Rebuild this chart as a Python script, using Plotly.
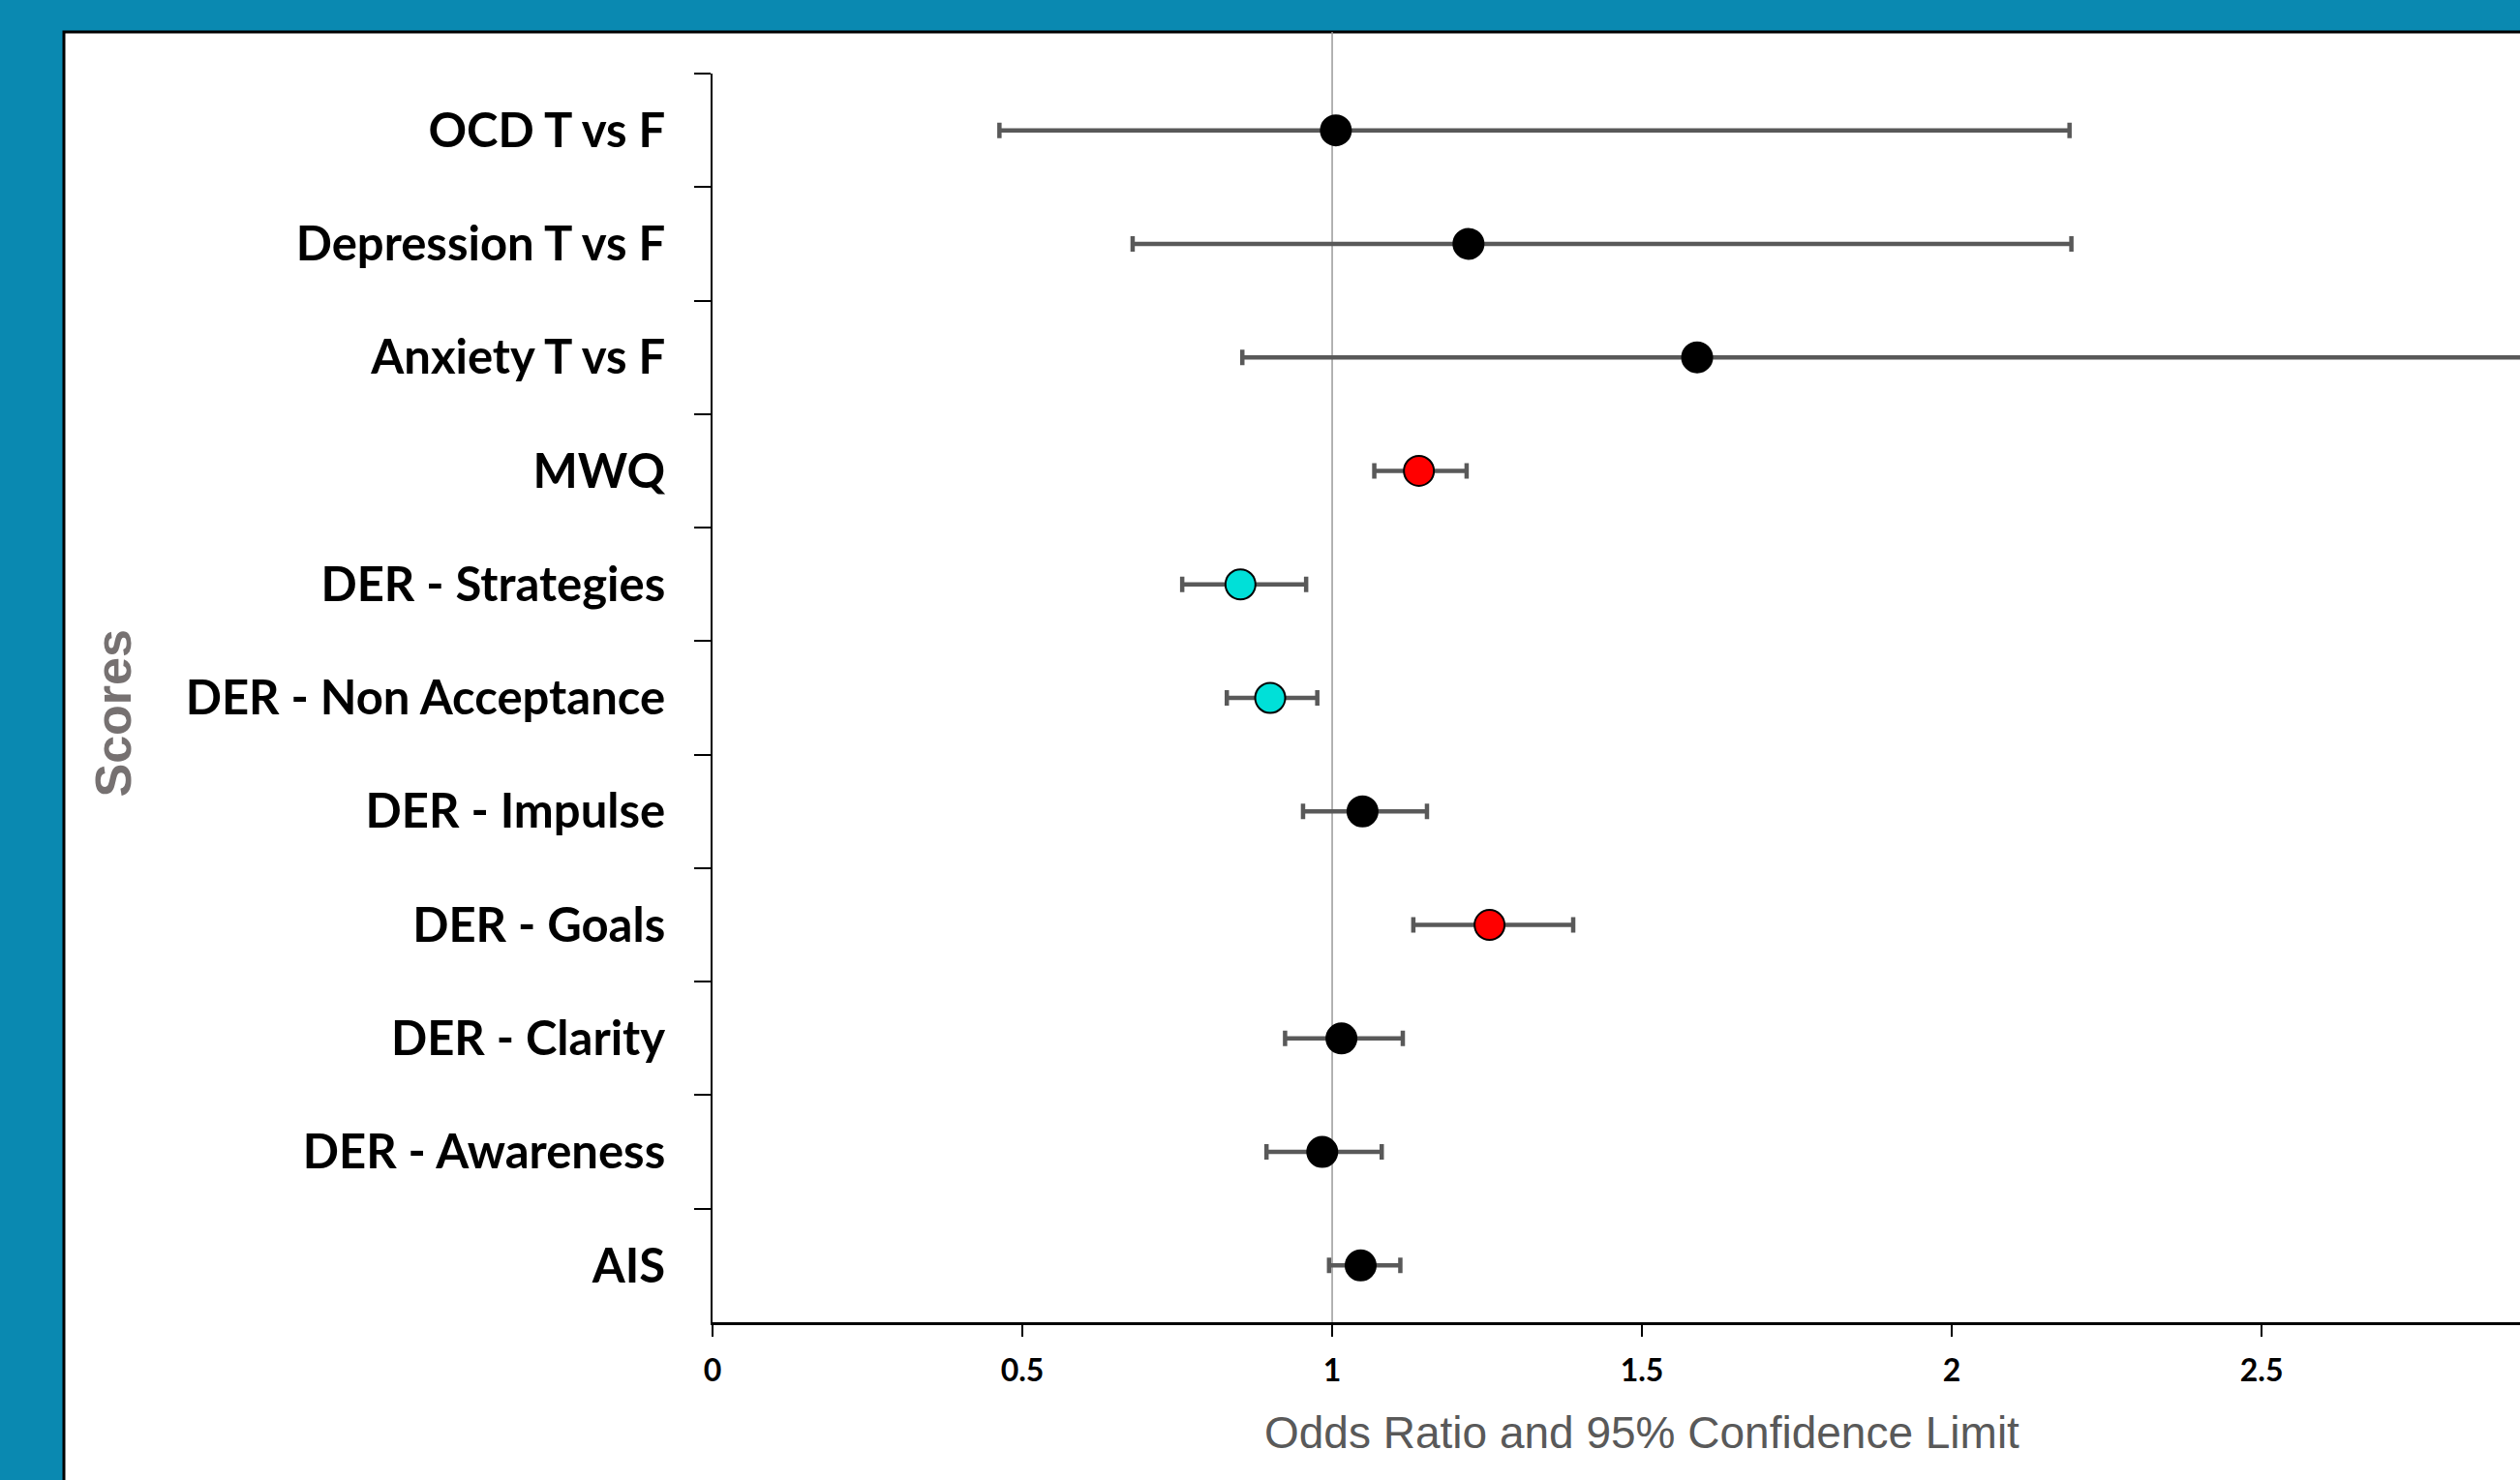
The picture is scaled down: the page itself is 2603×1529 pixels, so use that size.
import plotly.graph_objects as go

# ---- data (top to bottom as drawn) ----
categories = ["OCD T vs F", "Depression T vs F", "Anxiety T vs F", "MWQ",
              "DER - Strategies", "DER - Non Acceptance", "DER - Impulse",
              "DER - Goals", "DER - Clarity", "DER - Awareness", "AIS"]
odds_ratio = [1.006, 1.220, 1.589, 1.140, 0.852, 0.900, 1.049, 1.254, 1.015, 0.984, 1.046]
ci_low     = [0.463, 0.678, 0.855, 1.068, 0.758, 0.830, 0.953, 1.131, 0.924, 0.894, 0.995]
ci_high    = [2.190, 2.193, 2.960, 1.217, 0.958, 0.976, 1.153, 1.389, 1.114, 1.080, 1.110]
point_colors = ["#000000", "#000000", "#000000", "#FF0000", "#00E0D8", "#00E0D8",
                "#000000", "#FF0000", "#000000", "#000000", "#000000"]
x_tick_vals = [0, 0.5, 1, 1.5, 2, 2.5]
x_tick_text = ["0", "0.5", "1", "1.5", "2", "2.5"]

err_plus = [h - p for h, p in zip(ci_high, odds_ratio)]
err_minus = [p - l for p, l in zip(odds_ratio, ci_low)]

W, H = 2603, 1529
L, R, T, B = 736, 0, 76, 163
plot_w = W - L - R
plot_h = H - T - B

fig = go.Figure()
fig.add_trace(go.Scatter(
    x=odds_ratio, y=categories, mode="markers",
    marker=dict(size=31, color=point_colors, line=dict(color="#000000", width=2)),
    error_x=dict(type="data", symmetric=False, array=err_plus, arrayminus=err_minus,
                 color="#595959", thickness=4.5, width=8),
    showlegend=False, hoverinfo="skip",
))

panel_left = (66 - L) / plot_w
panel_top = (H - B - 33) / plot_h

fig.update_layout(
    width=W, height=H,
    margin=dict(l=L, r=R, t=T, b=B, autoexpand=False),
    paper_bgcolor="#0A89B1",
    plot_bgcolor="#FFFFFF",
    shapes=[
        dict(type="rect", xref="paper", yref="paper", x0=panel_left, x1=1.2,
             y0=-0.4, y1=panel_top, fillcolor="#FFFFFF",
             line=dict(color="#000000", width=3), layer="below"),
        dict(type="line", xref="x", yref="paper", x0=1, x1=1, y0=0, y1=panel_top,
             line=dict(color="#9A9A9A", width=1.5), layer="below"),
    ],
    xaxis=dict(
        range=[0, 2.917], tickmode="array", tickvals=x_tick_vals, ticktext=x_tick_text,
        ticks="outside", ticklen=12, tickwidth=2, tickcolor="#000000",
        showline=True, linecolor="#000000", linewidth=3,
        showgrid=False, zeroline=False, automargin=False,
        ticklabelstandoff=8,
        tickfont=dict(family="Lato", size=32, color="#000000", weight=700),
    ),
    yaxis=dict(
        type="category", categoryorder="array", categoryarray=categories,
        range=[len(categories) - 0.5, -0.5],
        tickson="boundaries", ticks="outside", ticklen=17, tickwidth=2,
        tickcolor="#000000", showline=True, linecolor="#000000", linewidth=2,
        showgrid=False, zeroline=False, automargin=False,
        ticklabelstandoff=37,
        tickfont=dict(family="Lato", size=49, color="#000000", weight=700),
    ),
    annotations=[
        dict(text="Odds Ratio and 95% Confidence Limit", xref="x", yref="paper",
             x=1.5, y=-(1480 - (H - B)) / plot_h, xanchor="center", yanchor="middle",
             showarrow=False,
             font=dict(family="Liberation Sans", size=46, color="#595959")),
        dict(text="<b>Scores</b>", xref="paper", yref="paper",
             x=(116.5 - L) / plot_w, y=(H - B - 737) / plot_h,
             xanchor="center", yanchor="middle", textangle=-90, showarrow=False,
             font=dict(family="Liberation Sans", size=52, color="#767171")),
    ],
)

fig.write_html(
    "out.html",
    config={"displayModeBar": False},
    post_script="document.body.style.margin='0';document.body.style.padding='0';"
                "document.documentElement.style.overflow='hidden';",
)
